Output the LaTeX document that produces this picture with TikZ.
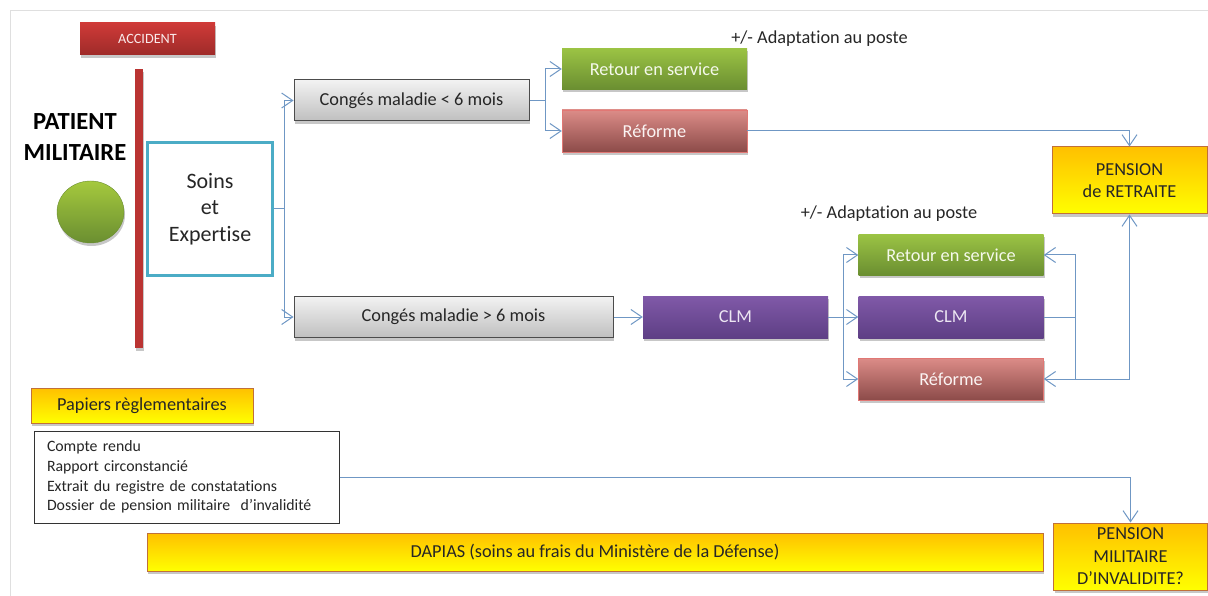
\documentclass[tikz,border=0pt]{standalone}
\usepackage{fontspec}
\setmainfont[Ligatures=NoCommon]{Carlito}
\usetikzlibrary{arrows.meta,shadows,shapes.geometric}

\definecolor{fleche}{HTML}{6F97C4}
\definecolor{turquoise}{HTML}{4BACC6}
\definecolor{vertH}{HTML}{9BC344}
\definecolor{vertB}{HTML}{6A8E31}
\definecolor{rougeH}{HTML}{CF3A38}
\definecolor{rougeB}{HTML}{9E2B29}
\definecolor{roseH}{HTML}{DC8C88}
\definecolor{roseB}{HTML}{8C4B49}
\definecolor{violetH}{HTML}{8059A8}
\definecolor{violetB}{HTML}{5E3F85}
\definecolor{jauneH}{HTML}{FFC000}
\definecolor{jauneB}{HTML}{FFFF00}
\definecolor{jauneT}{HTML}{C0703A}

\tikzset{
    ombre/.style={drop shadow={shadow xshift=1pt,shadow yshift=-3pt,opacity=0.22,fill=black}},
    boite/.style={rectangle,inner sep=0pt,font=\fontsize{18.3}{22}\selectfont,align=center,ombre},
    vert/.style={boite,text=white!90!vertH,top color=vertH,bottom color=vertB,minimum width=185,minimum height=41},
    rose/.style={boite,text=white!90!roseH,draw=roseH!85!red,top color=roseH,bottom color=roseB,minimum width=185,minimum height=42},
    violet/.style={boite,text=white!85!violetH,top color=violetH,bottom color=violetB,minimum width=185,minimum height=42},
    gris/.style={boite,text=black!85,draw=black!70,line width=1pt,top color=gray!10,bottom color=gray!50,minimum height=41},
    jaune/.style={boite,text=black!85,draw=jauneT,line width=1pt,top color=jauneH,bottom color=jauneB},
    fleche/.style={draw=fleche,line width=1pt,-{Straight Barb[length=11pt,width=15pt]}},
    trait/.style={draw=fleche,line width=1pt},
}

\begin{document}
\begin{tikzpicture}[x=1pt,y=-1pt]
    \useasboundingbox (0,0) rectangle (1208,596);

    \draw[gray!25,line width=1pt] (10,596) -- (10,11) -- (1208,11);

    % colonne de gauche
    \node[boite,text=white!90!rougeH,font=\fontsize{14.2}{16}\selectfont,top color=rougeH,bottom color=rougeB,minimum width=135,minimum height=32] (accident) at (147.5,39) {ACCIDENT};
    \node[boite,fill=rougeH!90!black,minimum width=8,minimum height=279] (barre) at (139,208.5) {};
    \node[font=\fontsize{24.6}{31}\selectfont\bfseries,align=center] (patient) at (75,137) {PATIENT\\MILITAIRE};
    \node[ellipse,inner sep=0pt,minimum width=67,minimum height=62,ombre,draw=vertB,top color=vertH!90!yellow,bottom color=vertB] (rond) at (90.5,212) {};
    \node[draw=turquoise,line width=2.5pt,fill=white,text=black!85,inner sep=0pt,minimum width=125,minimum height=133,align=center,font=\fontsize{22}{26.5}\selectfont] (soins) at (210,209) {Soins\\et\\Expertise};

    % branche du haut
    \node[gris,minimum width=235] (conge1) at (411.5,100.5) {Congés maladie < 6 mois};
    \node[vert] (retour1) at (654.5,69) {Retour en service};
    \node[rose] (reforme1) at (654.5,131) {Réforme};
    \node[font=\fontsize{18.3}{22}\selectfont,text=black!85] (adapt1) at (819.5,39) {+/- Adaptation au poste};

    % branche du bas
    \node[gris,minimum width=319] (conge2) at (453.5,317) {Congés maladie > 6 mois};
    \node[violet] (clm1) at (735.5,317) {CLM};
    \node[vert] (retour2) at (951,255) {Retour en service};
    \node[violet] (clm2) at (951,317) {CLM};
    \node[rose] (reforme2) at (951,379) {Réforme};
    \node[font=\fontsize{18.3}{22}\selectfont,text=black!85] (adapt2) at (889,214) {+/- Adaptation au poste};

    % pensions
    \node[jaune,minimum width=155,minimum height=67] (retraite) at (1129.5,180.5) {PENSION\\de RETRAITE};
    \node[jaune,minimum width=154,minimum height=67,font=\fontsize{18.3}{22.5}\selectfont] (invalidite) at (1130.5,556.5) {PENSION\\MILITAIRE\\D’INVALIDITE?};

    % papiers
    \node[jaune,minimum width=222,minimum height=35] (papiers) at (142,405.5) {Papiers règlementaires};
    \node[draw=black!80,line width=1pt,fill=white,text=black!85,inner xsep=13pt,inner ysep=0pt,text width=279,minimum height=92,align=left,font=\fontsize{15.8}{19.7}\selectfont] (liste) at (186.5,477) {Compte rendu\\Rapport circonstancié\\Extrait du registre de constatations\\Dossier de pension militaire \ d’invalidité};
    \node[jaune,minimum width=896,minimum height=38] (dapias) at (595,552) {DAPIAS (soins au frais du Ministère de la Défense)};

    % fleches
    \coordinate (b1) at (284,209);
    \coordinate (b2) at (545,100.5);
    \coordinate (b3) at (843,317);
    \coordinate (b4) at (1075,317);
    \coordinate (b5) at (1075,379);

    \draw[trait] (soins.east) -- (b1);
    \foreach \cible in {conge1,conge2} {
        \draw[fleche] (b1) |- (\cible.west);
    }
    \draw[trait] (conge1.east) -- (b2);
    \foreach \cible in {retour1,reforme1} {
        \draw[fleche] (b2) |- (\cible.west);
    }
    \draw[fleche] (reforme1.east) -| (retraite.north);
    \draw[fleche] (conge2.east) -- (clm1.west);
    \draw[fleche] (clm1.east) -- (clm2.west);
    \foreach \cible in {retour2,reforme2} {
        \draw[fleche] (b3) |- (\cible.west);
    }
    \draw[trait] (clm2.east) -- (b4);
    \foreach \cible in {retour2,reforme2} {
        \draw[fleche] (b4) |- (\cible.east);
    }
    \draw[fleche] (b5) -| (retraite.south);
    \draw[fleche] (liste.east) -| (invalidite.north);
\end{tikzpicture}
\end{document}
